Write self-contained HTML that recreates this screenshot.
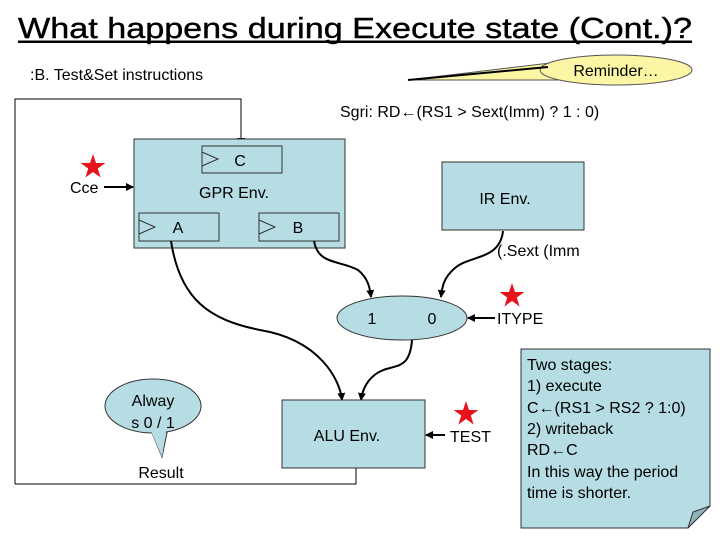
<!DOCTYPE html>
<html><head><meta charset="utf-8"><style>
html,body{margin:0;padding:0;background:#fff;}
svg{display:block;font-family:"Liberation Sans",Arial,sans-serif;}
</style></head><body>
<svg width="720" height="540" viewBox="0 0 720 540" xmlns="http://www.w3.org/2000/svg">
<defs>
<marker id="ar" markerWidth="8" markerHeight="8" refX="7" refY="4" orient="auto" markerUnits="userSpaceOnUse">
<path d="M0,0 L8,4 L0,8 z" fill="#000"/></marker>
<g id="star"><polygon points="0,-13 3,-4 12.4,-4 4.8,1.5 7.6,10.5 0,5 -7.6,10.5 -4.8,1.5 -12.4,-4 -3,-4" fill="#e8141b"/></g>
</defs>
<text x="18" y="38" font-size="29" textLength="674" lengthAdjust="spacingAndGlyphs" stroke="#000" stroke-width="0.4">What happens during Execute state (Cont.)?</text>
<rect x="18" y="40.5" width="674" height="2.5" fill="#000"/>
<text x="30" y="80" font-size="16">:B. Test&amp;Set instructions</text>
<polygon points="408,80 550,63 560,80" fill="#fbf6a4" stroke="#555" stroke-width="1"/>
<ellipse cx="616" cy="70" rx="76" ry="15" fill="#fbf6a4" stroke="#555" stroke-width="1"/>
<path d="M408,80 L548,67" stroke="#000" stroke-width="2"/>
<text x="616" y="76" font-size="16" text-anchor="middle">Reminder…</text>
<text x="340" y="117" font-size="16">Sgri: RD←(RS1 &gt; Sext(Imm) ? 1 : 0)</text>
<path d="M15,484 L15,99 L241,99 L241,145" fill="none" stroke="#000" stroke-width="1" marker-end="url(#ar)"/>
<path d="M15,484 L356,484 L356,468" fill="none" stroke="#000" stroke-width="1"/>
<rect x="134" y="139" width="211" height="109" fill="#b6dde3" stroke="#333"/>
<rect x="202" y="146" width="80" height="27" fill="#b6dde3" stroke="#333"/>
<path d="M202,152 L218,159 L202,166" fill="none" stroke="#333"/>
<text x="240" y="166" font-size="16" text-anchor="middle">C</text>
<text x="234" y="198" font-size="16" text-anchor="middle">GPR Env.</text>
<rect x="139" y="213" width="80" height="28" fill="#b6dde3" stroke="#333"/>
<path d="M139,220 L155,227 L139,234" fill="none" stroke="#333"/>
<text x="178" y="233" font-size="16" text-anchor="middle">A</text>
<rect x="259" y="213" width="80" height="28" fill="#b6dde3" stroke="#333"/>
<path d="M259,220 L275,227 L259,234" fill="none" stroke="#333"/>
<text x="298" y="233" font-size="16" text-anchor="middle">B</text>
<rect x="442" y="162" width="142" height="68" fill="#b6dde3" stroke="#333"/>
<text x="505" y="204" font-size="16" text-anchor="middle">IR Env.</text>
<use href="#star" x="93" y="167"/>
<text x="70" y="193" font-size="16">Cce</text>
<path d="M104,187 L133,187" stroke="#000" stroke-width="2" marker-end="url(#ar)"/>
<path d="M503,231 C500,260 470,255 455,268 C443,278 442,288 441,297" fill="none" stroke="#000" stroke-width="2" marker-end="url(#ar)"/>
<text x="497" y="256" font-size="16">(.Sext (Imm</text>
<path d="M314,241 C318,265 340,260 358,270 C368,278 370,288 371,297" fill="none" stroke="#000" stroke-width="2" marker-end="url(#ar)"/>
<path d="M171,241 C180,300 210,320 260,330 C320,340 340,380 342,400" fill="none" stroke="#000" stroke-width="2" marker-end="url(#ar)"/>
<ellipse cx="402" cy="318" rx="65" ry="22" fill="#b6dde3" stroke="#333"/>
<text x="372" y="324" font-size="16" text-anchor="middle">1</text>
<text x="432" y="324" font-size="16" text-anchor="middle">0</text>
<path d="M495,318 L468,318" stroke="#000" stroke-width="2" marker-end="url(#ar)"/>
<text x="497" y="324" font-size="16">ITYPE</text>
<use href="#star" x="512" y="296"/>
<path d="M412,340 C410,365 400,365 390,368 C372,372 363,385 361,400" fill="none" stroke="#000" stroke-width="2" marker-end="url(#ar)"/>
<rect x="282" y="400" width="143" height="68" fill="#b6dde3" stroke="#333"/>
<text x="347" y="441" font-size="16" text-anchor="middle">ALU Env.</text>
<path d="M445,435 L426,435" stroke="#000" stroke-width="2" marker-end="url(#ar)"/>
<text x="450" y="442" font-size="16">TEST</text>
<use href="#star" x="466" y="414"/>
<path d="M150,428 L162,457 L168,428" fill="#b6dde3" stroke="#333"/>
<ellipse cx="153" cy="406" rx="48" ry="27" fill="#b6dde3" stroke="#333"/>
<path d="M151,431 L162,457 L166,431" fill="#b6dde3" stroke="none"/>
<text x="153" y="406" font-size="16" text-anchor="middle">Alway</text>
<text x="153" y="428" font-size="16" text-anchor="middle">s 0 / 1</text>
<text x="161" y="478" font-size="16" text-anchor="middle">Result</text>
<path d="M521,349 L710,349 L710,506 L688,528 L521,528 z" fill="#b6dde3" stroke="#333"/>
<path d="M710,506 L688,528 L693,512 z" fill="#8fb3b9" stroke="#333"/>
<g font-size="16">
<text x="527" y="370">Two stages:</text>
<text x="527" y="391">1) execute</text>
<text x="527" y="413">C←(RS1 &gt; RS2 ? 1:0)</text>
<text x="527" y="434">2) writeback</text>
<text x="527" y="455">RD←C</text>
<text x="527" y="477">In this way the period</text>
<text x="527" y="498">time is shorter.</text>
</g>
</svg>
</body></html>
